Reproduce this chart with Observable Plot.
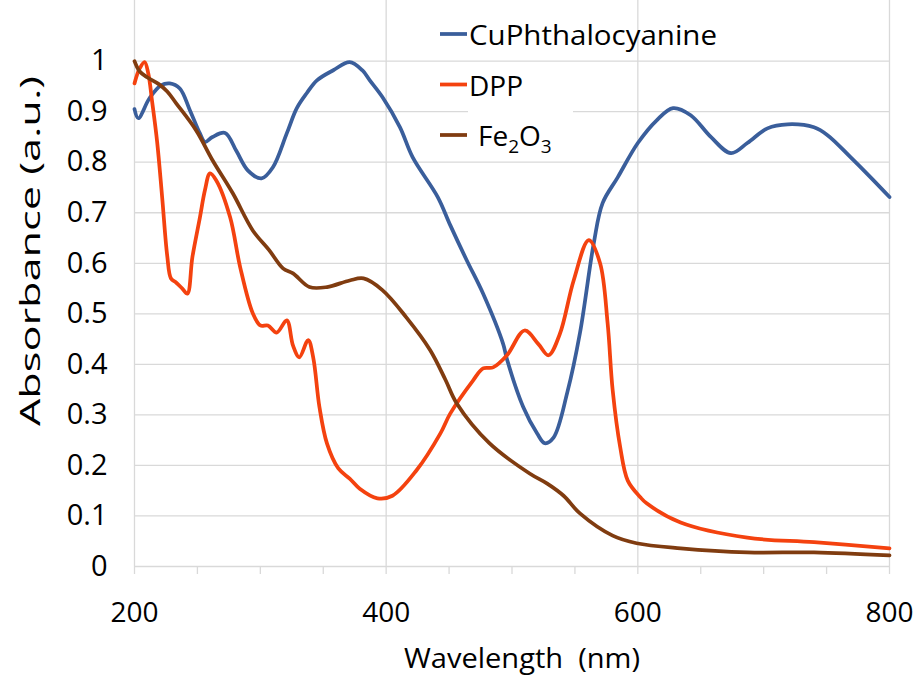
<!DOCTYPE html>
<html><head><meta charset="utf-8">
<script src="https://cdn.jsdelivr.net/npm/d3@7"></script>
<script src="https://cdn.jsdelivr.net/npm/@observablehq/plot@0.6"></script>
<style>
html,body{margin:0;padding:0;background:#fff;}
#chart{position:relative;width:918px;height:675px;}
</style></head><body><div id="chart"></div>
<script>
const seriesNames = ["CuPhthalocyanine", "DPP", "Fe2O3"];
const seriesColors = ["#3A5E9B", "#F4420F", "#803C10"];

const cuWl  = [200,203,212,221,228,236,244,252,256,262,272,281,290,301,310,321,329,337,345,358,371,381,387,397,411,421,441,451,464,477,493,496,509,520,526,533,544,554,565,572,584,600,615,628,642,658,674,687,703,719,740,751,769,785,800];
const cuAbs = [0.905,0.887,0.927,0.952,0.956,0.946,0.903,0.857,0.840,0.850,0.858,0.822,0.784,0.768,0.790,0.857,0.907,0.937,0.962,0.982,0.998,0.982,0.962,0.929,0.869,0.810,0.731,0.675,0.606,0.540,0.440,0.410,0.315,0.263,0.244,0.255,0.345,0.462,0.640,0.719,0.770,0.838,0.883,0.907,0.893,0.850,0.818,0.838,0.867,0.875,0.869,0.853,0.810,0.770,0.731];

const dppWl  = [200,204,208,211,214,218,222,226,229,233,238,242,246,252,256,260,265,276,284,294,300,306,313,321,326,331,338,342,347,353,362,371,379,393,405,424,443,451,469,477,485,496,510,521,529,538,549,561,570,576,580,586,592,602,607,634,687,740,800];
const dppAbs = [0.956,0.985,0.998,0.975,0.920,0.840,0.730,0.615,0.570,0.562,0.550,0.540,0.612,0.691,0.745,0.778,0.764,0.691,0.592,0.501,0.477,0.477,0.463,0.487,0.437,0.414,0.448,0.414,0.315,0.243,0.194,0.174,0.154,0.135,0.140,0.190,0.263,0.303,0.368,0.392,0.394,0.418,0.467,0.440,0.418,0.460,0.566,0.646,0.600,0.481,0.349,0.236,0.170,0.137,0.125,0.087,0.057,0.048,0.036];

const feWl  = [200,204,210,219,226,233,249,262,278,294,307,318,326,339,353,371,382,397,416,435,447,456,482,514,528,541,554,580,599,634,687,740,800];
const feAbs = [1.000,0.980,0.968,0.955,0.940,0.917,0.863,0.804,0.739,0.665,0.626,0.590,0.580,0.553,0.553,0.566,0.570,0.547,0.493,0.428,0.370,0.323,0.244,0.184,0.164,0.140,0.105,0.061,0.046,0.036,0.028,0.028,0.022];

const xMajorTicks = [200, 400, 600, 800];
const xMinorTicks = [200,250,300,350,400,450,500,550,600,650,700,750,800];
const yTicks = [0,0.1,0.2,0.3,0.4,0.5,0.6,0.7,0.8,0.9,1];
const xTitle = "Wavelength  (nm)";
const yTitle = "Absorbance (a.u.)";

const rows = [];
[[cuWl, cuAbs], [dppWl, dppAbs], [feWl, feAbs]].forEach(([w, a], i) =>
  w.forEach((x, j) => rows.push({series: seriesNames[i], wl: x, abs: a[j]})));

const grid = "#d9d9d9";
const plot = Plot.plot({
  width: 918, height: 675,
  marginLeft: 134, marginRight: 29, marginTop: 0, marginBottom: 109,
  style: {fontFamily: "'Open Sans', sans-serif", fontSize: "28px", color: "#000", background: "#fff"},
  x: {domain: [200, 800], label: null},
  y: {domain: [0, 1.12], label: null},
  color: {domain: seriesNames, range: seriesColors},
  marks: [
    Plot.gridX(xMajorTicks, {stroke: grid, strokeOpacity: 1, strokeWidth: 1.3}),
    Plot.gridY(yTicks.filter(d => d > 0), {stroke: grid, strokeOpacity: 1, strokeWidth: 1.3}),
    Plot.ruleY([0], {stroke: grid, strokeWidth: 1.3}),
    Plot.axisX(xMinorTicks, {tickSize: 8, tickFormat: () => "", stroke: grid, strokeWidth: 1.3, label: null}),
    Plot.axisX(xMajorTicks, {tickSize: 0, tickPadding: 36, tickFormat: d => String(d), label: null, fontSize: 28}),
    Plot.axisY(yTicks, {tickSize: 0, tickPadding: 27, label: null, fontSize: 29,
      tickFormat: d => d === 0 ? "0" : d === 1 ? "1" : d.toFixed(1)}),
    Plot.line(rows, {x: "wl", y: "abs", z: "series", stroke: "series", strokeWidth: 3.75, curve: "catmull-rom"})
  ]
});
document.getElementById("chart").appendChild(plot);

const svg = d3.select(plot);
// axis titles
svg.append("text").attr("x", 522).attr("y", 668).attr("text-anchor", "middle")
  .attr("font-size", 28).attr("fill", "#000").attr("textLength", 236).attr("lengthAdjust", "spacingAndGlyphs")
  .text(xTitle);
svg.append("text").attr("transform", "translate(40,251) rotate(-90)").attr("text-anchor", "middle")
  .attr("font-size", 28).attr("fill", "#000").attr("textLength", 350).attr("lengthAdjust", "spacingAndGlyphs")
  .text(yTitle);

// legend
svg.append("rect").attr("x", 468).attr("y", 104).attr("width", 105).attr("height", 16).attr("fill", "#fff");
const lg = svg.append("g").attr("text-anchor", "start");
seriesNames.forEach((name, i) => {
  const cy = 34 + i * 50.5;
  lg.append("line").attr("x1", 440).attr("x2", 467).attr("y1", cy).attr("y2", cy)
    .attr("stroke", seriesColors[i]).attr("stroke-width", 3.75);
  const t = lg.append("text").attr("x", i === 2 ? 478 : 469).attr("y", cy + 11)
    .attr("font-size", 28).attr("fill", "#000").attr("text-anchor", "start");
  if (name === "Fe2O3") {
    t.append("tspan").text("Fe");
    t.append("tspan").attr("font-size", 19).attr("dy", 7).text("2");
    t.append("tspan").attr("dy", -7).attr("font-size", 28).text("O");
    t.append("tspan").attr("font-size", 19).attr("dy", 7).text("3");
  } else {
    t.attr("textLength", name.length > 5 ? 248 : null).attr("lengthAdjust", "spacingAndGlyphs").text(name);
  }
});
</script></body></html>
